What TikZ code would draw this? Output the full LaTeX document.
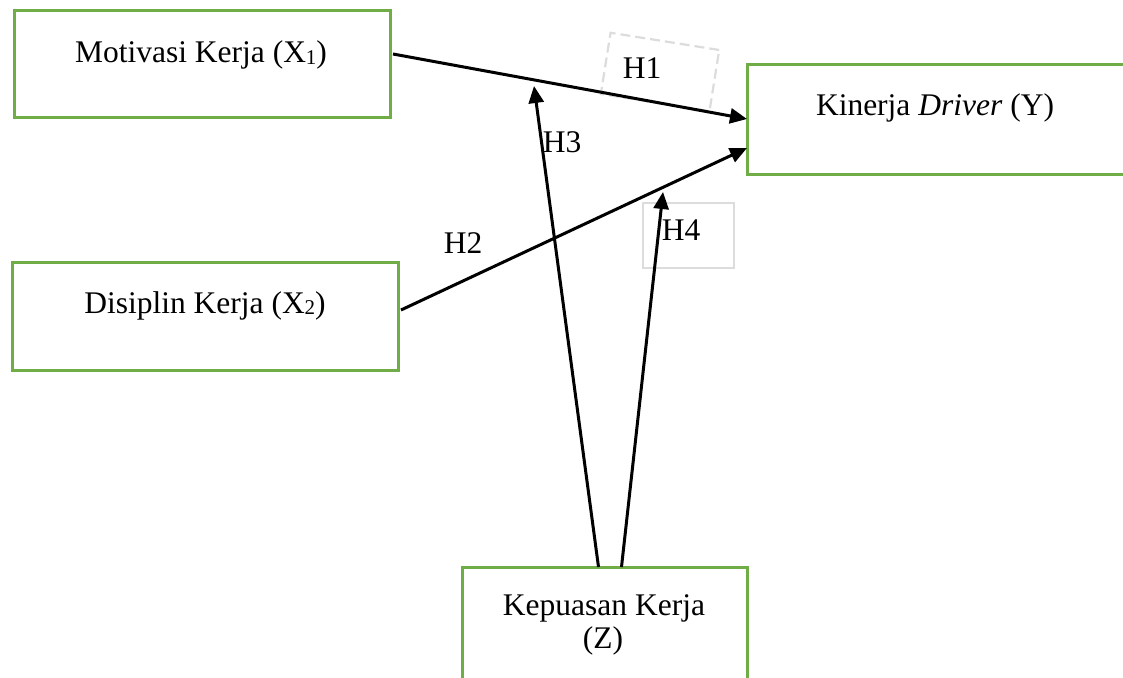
\documentclass[tikz,border=0pt]{standalone}
\usepackage{fontspec}
\setmainfont{Liberation Serif}
\usetikzlibrary{arrows.meta,calc}
\definecolor{boxgreen}{HTML}{70AD47}
\definecolor{hgray}{HTML}{DCDCDC}
\newcommand{\smallsub}[1]{\raisebox{-1.5pt}{\fontsize{21}{21}\selectfont #1}}
\begin{document}
\begin{tikzpicture}[x=1pt,y=-1pt,
  varbox/.style={draw=boxgreen,line width=3pt,inner sep=0pt,outer sep=0pt},
  lbl/.style={font=\fontsize{31.5}{33}\selectfont,inner sep=0pt,anchor=base},
  conn/.style={line width=3pt,-{Triangle[length=17pt,width=15pt]}},
  hbox/.style={draw=hgray,inner sep=0pt,outer sep=0pt},
]
\useasboundingbox (0,0) rectangle (1123,677);
\clip (0,0) rectangle (1123,677);

% variable boxes
\node[varbox,minimum width=376pt,minimum height=106pt] (x1) at (202,64) {};
\node[varbox,minimum width=386pt,minimum height=108pt] (x2) at (205,316) {};
\node[varbox,minimum width=380pt,minimum height=110pt] (y) at (937,119) {};
\node[varbox,minimum width=285pt,minimum height=120pt] (z) at (604.5,627) {};

% hypothesis label frames
\node[hbox,dashed,dash pattern=on 10pt off 5pt,line width=2.2pt,rotate=-9,minimum width=110pt,minimum height=62pt] (h1box) at (660,72) {};
\node[hbox,line width=1.8pt,minimum width=91pt,minimum height=65pt] (h4box) at (688.5,235.5) {};

% arrow end points
\coordinate (h3end) at (534,86);
\coordinate (h4end) at (663,192);

% connectors
\draw[conn] ([xshift=3pt,yshift=10pt]x1.east) -- (y.west);
\draw[conn] ([xshift=3pt,yshift=6pt]x2.east) -- ([yshift=-29pt]y.west);
\draw[conn] ([xshift=-6pt]z.north) -- (h3end);
\draw[conn] ([xshift=17pt]z.north) -- (h4end);

% texts
\node[lbl] (tx1) at (201,63) {Motivasi Kerja (X\smallsub{1})};
\node[lbl] (tx2) at (205,313) {Disiplin Kerja (X\smallsub{2})};
\node[lbl] (ty) at (935,115) {Kinerja \textit{Driver} (Y)};
\node[lbl] (tz1) at (604,615) {Kepuasan Kerja};
\node[lbl] (tz2) at (603,648) {(Z)};

\node[lbl] (h1) at (642,78) {H1};
\node[lbl] (h2) at (463,253) {H2};
\node[lbl] (h3) at (562,152) {H3};
\node[lbl] (h4) at (681,240) {H4};
\end{tikzpicture}
\end{document}
